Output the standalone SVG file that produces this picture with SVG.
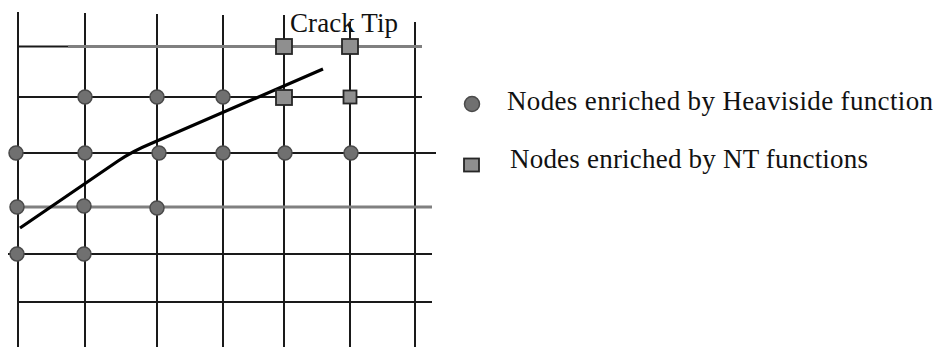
<svg xmlns="http://www.w3.org/2000/svg" width="939" height="347" viewBox="0 0 939 347">
<style>
.g{stroke:#1a1a1a;stroke-width:2;fill:none}
.gg{stroke:#808080;stroke-width:3;fill:none}
.h{fill:#707070;stroke:#4a4a4a;stroke-width:1.5}
.nt{fill:#8f8f8f;stroke:#262626;stroke-width:1.8}
.crack{stroke:#000;stroke-width:3.2;fill:none;stroke-linejoin:round}
.t{font-family:"Liberation Serif","Times New Roman",serif;font-size:27px;fill:#111}
</style>
<rect width="939" height="347" fill="#fff"/>
<g id="connectors">
  <line class="g" x1="18" y1="12" x2="18" y2="347"/>
  <line class="g" x1="85" y1="13" x2="85" y2="347"/>
  <line class="g" x1="157" y1="14" x2="157" y2="347"/>
  <line class="g" x1="223" y1="15" x2="223" y2="347"/>
  <line class="g" x1="284" y1="15" x2="284" y2="347"/>
  <line class="g" x1="350" y1="22" x2="350" y2="347"/>
  <line class="g" x1="415" y1="22" x2="415" y2="347"/>
  <line class="g" x1="17" y1="46.5" x2="68" y2="46.5"/>
  <line class="gg" x1="68" y1="46.5" x2="422" y2="46.5"/>
  <line class="g" x1="17" y1="97" x2="422" y2="97"/>
  <line class="g" x1="9" y1="153" x2="436" y2="153"/>
  <line class="gg" x1="17" y1="207" x2="432" y2="207"/>
  <line class="g" x1="8" y1="254" x2="432" y2="254"/>
  <line class="g" x1="17" y1="302" x2="432" y2="302"/>
  <path id="crack" class="crack" d="M20,228 L118,161 Q133,151 150,144 L323,69"/>
</g>
<g id="n-h-85-97"><circle class="h" cx="85" cy="97" r="7"/></g>
<g id="n-h-157-97"><circle class="h" cx="157" cy="97" r="7"/></g>
<g id="n-h-223-97"><circle class="h" cx="223" cy="97" r="7"/></g>
<g id="n-h-17-153"><circle class="h" cx="16" cy="153" r="7"/></g>
<g id="n-h-85-153"><circle class="h" cx="85" cy="153" r="7"/></g>
<g id="n-h-159-153"><circle class="h" cx="159" cy="153" r="7"/></g>
<g id="n-h-223-153"><circle class="h" cx="223" cy="153" r="7"/></g>
<g id="n-h-285-153"><circle class="h" cx="285" cy="153" r="7"/></g>
<g id="n-h-351-153"><circle class="h" cx="351" cy="153" r="7"/></g>
<g id="n-h-17-207"><circle class="h" cx="17" cy="207" r="7"/></g>
<g id="n-h-84-207"><circle class="h" cx="84" cy="206" r="7"/></g>
<g id="n-h-157-207"><circle class="h" cx="157" cy="208" r="7"/></g>
<g id="n-h-17-254"><circle class="h" cx="17" cy="254" r="7"/></g>
<g id="n-h-84-254"><circle class="h" cx="84" cy="254" r="7"/></g>
<g id="n-nt-284-46"><rect class="nt" x="276" y="39" width="16" height="15"/></g>
<g id="n-nt-350-46"><rect class="nt" x="342" y="39" width="16" height="15"/></g>
<g id="n-nt-284-97"><rect class="nt" x="276" y="90" width="16" height="15"/></g>
<g id="n-nt-350-97"><rect class="nt" x="343.5" y="90.5" width="13" height="13"/></g>
<g id="label-crack-tip"><text class="t" x="290" y="32" textLength="108" lengthAdjust="spacing">Crack Tip</text></g>
<g id="legend-heaviside">
  <circle class="h" cx="472" cy="104" r="7.5"/>
  <text class="t" x="507" y="110" textLength="426" lengthAdjust="spacing">Nodes enriched by Heaviside function</text>
</g>
<g id="legend-nt">
  <rect class="nt" x="464" y="158.5" width="15" height="13"/>
  <text class="t" x="510" y="168" textLength="358" lengthAdjust="spacing">Nodes enriched by NT functions</text>
</g>
</svg>
